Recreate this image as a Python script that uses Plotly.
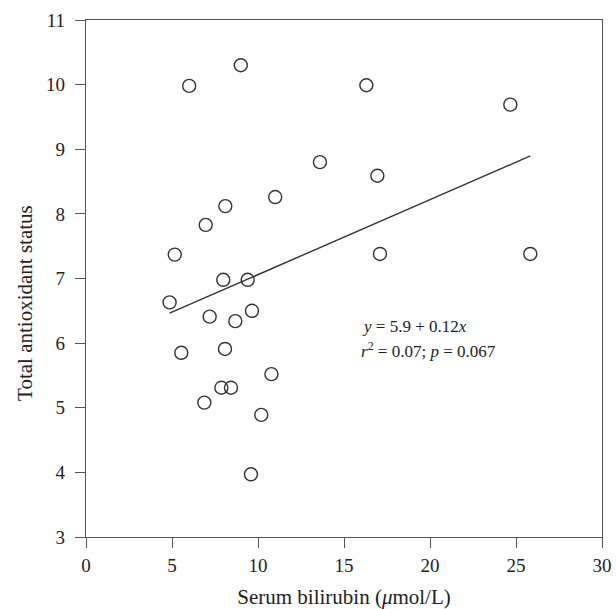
import numpy as np
import plotly.graph_objects as go

# Data
bilirubin = [6.0, 9.0, 13.6, 11.0, 8.1, 6.96, 5.16, 7.98, 9.4, 4.86,
             7.19, 8.68, 9.65, 5.54, 8.08, 10.78, 7.87, 8.43, 6.88, 10.19, 9.59,
             16.3, 24.67, 16.94, 17.09, 25.83]
tas = [9.98, 10.3, 8.8, 8.26, 8.12, 7.83, 7.37, 6.98, 6.98, 6.63,
       6.41, 6.34, 6.5, 5.85, 5.91, 5.52, 5.31, 5.31, 5.08, 4.89, 3.97,
       9.99, 9.69, 8.59, 7.38, 7.38]

# Regression line parameters (as drawn)
intercept = 5.9
slope = 0.116

x_ticks = [0, 5, 10, 15, 20, 25, 30]
y_ticks = [3, 4, 5, 6, 7, 8, 9, 10, 11]

x_title = "Serum bilirubin (<i>μ</i>mol/L)"
y_title = "Total antioxidant status"
eq_line1 = "<i>y</i> = 5.9 + 0.12<i>x</i>"
eq_line2 = "<i>r</i><sup>2</sup> = 0.07; <i>p</i> = 0.067"

FONT = "Liberation Serif"
INK = "#333333"
TXT = "#222222"

x_fit = np.array([min(bilirubin), max(bilirubin)])
y_fit = intercept + slope * x_fit

fig = go.Figure()
fig.add_trace(go.Scatter(
    x=bilirubin, y=tas, mode="markers",
    marker=dict(symbol="circle-open", size=13, color=INK, line=dict(width=1.4, color=INK)),
    showlegend=False, hoverinfo="skip", cliponaxis=False))
fig.add_trace(go.Scatter(
    x=x_fit, y=y_fit, mode="lines",
    line=dict(color=INK, width=1.4),
    showlegend=False, hoverinfo="skip"))

fig.add_annotation(x=15.95, y=6.26, xref="x", yref="y", text=eq_line1,
                   showarrow=False, xanchor="left", yanchor="middle",
                   font=dict(family=FONT, size=17, color=TXT))
fig.add_annotation(x=15.9, y=5.89, xref="x", yref="y", text=eq_line2,
                   showarrow=False, xanchor="left", yanchor="middle",
                   font=dict(family=FONT, size=17, color=TXT))

# y-axis title (placed slightly below the axis centre, as in the reference)
fig.add_annotation(x=-0.118, y=0.453, xref="paper", yref="paper", text=y_title,
                   textangle=-90, showarrow=False, xanchor="center", yanchor="middle",
                   font=dict(family=FONT, size=21, color=TXT))

axis_common = dict(showgrid=False, zeroline=False, showline=True, linecolor="#555",
                   linewidth=1.3, mirror=True, ticks="outside", ticklen=10,
                   tickwidth=1.3, tickcolor="#555", automargin=False,
                   tickfont=dict(family=FONT, size=19, color=TXT))

fig.update_xaxes(range=[0, 30], tickvals=x_ticks, ticktext=[str(v) for v in x_ticks],
                 ticklabelstandoff=1,
                 title=dict(text=x_title,
                            font=dict(family=FONT, size=21, color=TXT), standoff=19),
                 **axis_common)
fig.update_yaxes(range=[3, 11], tickvals=y_ticks, ticktext=[str(v) for v in y_ticks],
                 ticklabelstandoff=6,
                 **axis_common)

fig.update_layout(width=616, height=609,
                  margin=dict(l=86, r=14, t=20, b=72),
                  paper_bgcolor="white", plot_bgcolor="white",
                  font=dict(family=FONT, color=TXT))

fig.write_html("out.html", config={"displayModeBar": False},
               post_script="document.body.style.margin='0px';document.body.style.overflow='hidden';")
